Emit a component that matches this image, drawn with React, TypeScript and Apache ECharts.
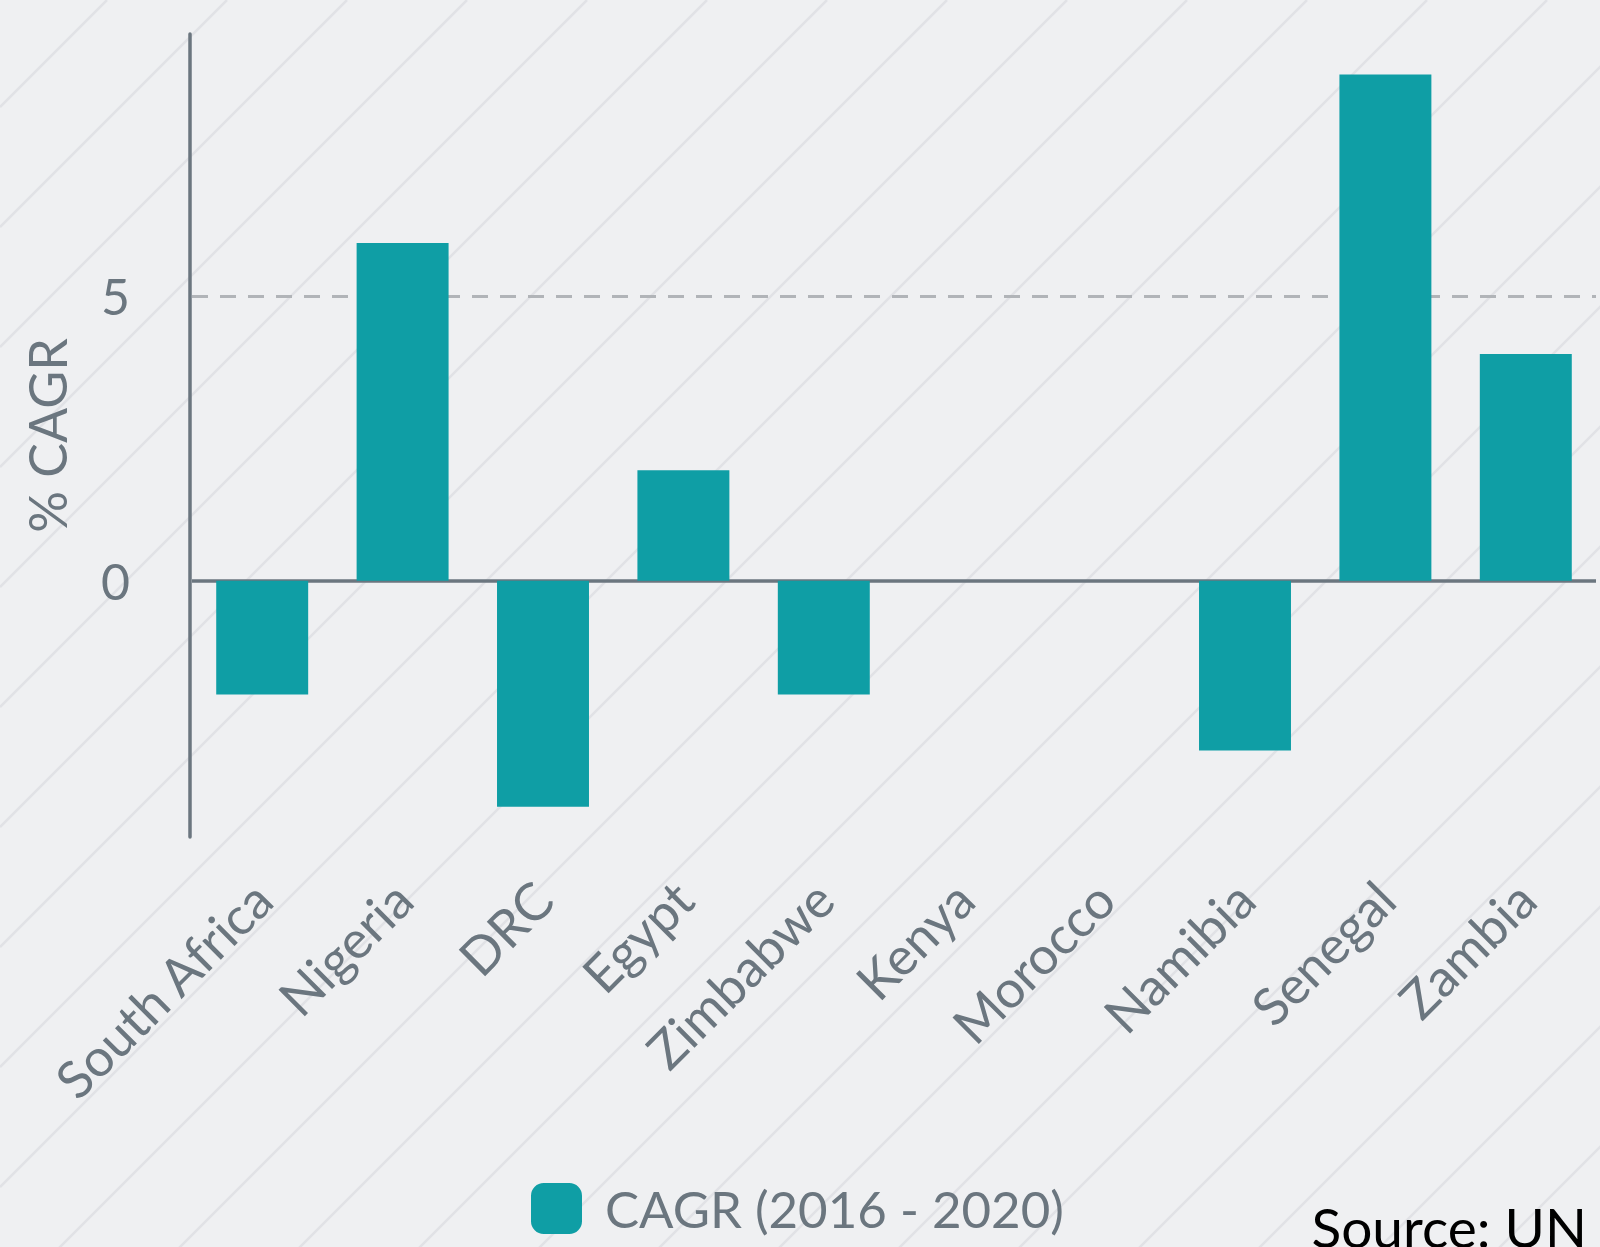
import React, { useEffect, useRef } from "react";
import * as echarts from "echarts";

const categories = [
  "South Africa",
  "Nigeria",
  "DRC",
  "Egypt",
  "Zimbabwe",
  "Kenya",
  "Morocco",
  "Namibia",
  "Senegal",
  "Zambia",
];
const cagrValues = [-2.0, 5.93, -3.97, 1.94, -2.0, 0, 0, -2.98, 8.89, 3.98];
const yTickValues = [0, 5];
const seriesName = "CAGR (2016 - 2020)";
const axisTitle = "% CAGR";
const sourceText = "Source: UN";

const W = 1600;
const H = 1247;
const BG = "#eff0f2";
const STRIPE = "#e1e2e6";
const BAR = "#0f9ea5";
const GREY = "#6b767f";
const FONT = "Lato";

function stripes() {
  const out: any[] = [];
  for (let c = 107 - 120 * 2; c < W + H + 120; c += 120) {
    out.push({
      type: "line",
      silent: true,
      z: -10,
      shape: { x1: 0, y1: c, x2: c, y2: 0 },
      style: { stroke: STRIPE, lineWidth: 2.5 },
    });
  }
  return out;
}

export default function App() {
  const ref = useRef<HTMLDivElement>(null);
  useEffect(() => {
    if (!ref.current) return;
    const chart = echarts.init(ref.current, undefined, { renderer: "svg" });
    chart.setOption({
      animation: false,
      backgroundColor: BG,
      textStyle: { fontFamily: FONT },
      grid: { left: 192, right: 4, top: 34, bottom: H - 837, containLabel: false },
      legend: {
        show: true,
        top: 1178,
        left: 526,
        icon: "roundRect",
        itemWidth: 51,
        itemHeight: 51,
        itemStyle: { borderRadius: 5 },
        textStyle: { fontSize: 51, color: GREY, fontFamily: FONT, padding: [0, 0, 0, 18] },
        data: [seriesName],
      },
      xAxis: {
        type: "category",
        data: categories,
        axisLine: { show: false, onZero: false },
        axisTick: { show: false },
        splitLine: { show: false },
        axisLabel: {
          rotate: 45,
          fontSize: 52,
          color: GREY,
          fontFamily: FONT,
          margin: 53,
          interval: 0,
        },
      },
      yAxis: {
        type: "value",
        min: -4.5,
        max: 9.6,
        offset: 2,
        name: axisTitle,
        nameLocation: "middle",
        nameRotate: 90,
        nameGap: 117,
        nameTextStyle: { fontSize: 52, color: GREY, fontFamily: FONT },
        axisLine: { show: true, lineStyle: { color: GREY, width: 3.5 } },
        axisTick: { show: false },
        splitLine: { show: false },
        axisLabel: {
          customValues: yTickValues,
          fontSize: 50,
          color: GREY,
          fontFamily: FONT,
          margin: 60,
        },
      },
      graphic: [
        ...stripes(),
        {
          type: "text",
          right: 13,
          bottom: -7,
          style: {
            text: sourceText,
            fontSize: 55,
            fontFamily: FONT,
            fill: "#000000",
          },
        },
      ],
      series: [
        {
          name: seriesName,
          type: "bar",
          data: cagrValues,
          barCategoryGap: "34.5%",
          itemStyle: { color: BAR },
          markLine: {
            silent: true,
            symbol: "none",
            z: 1,
            label: { show: false },
            data: [
              { yAxis: 0, lineStyle: { color: GREY, width: 3.5, type: "solid" } },
              {
                yAxis: 5,
                lineStyle: { color: "#b1b4b8", width: 3, type: [16, 12] },
              },
            ],
          },
        },
      ],
    });
    return () => chart.dispose();
  }, []);
  return (
    <div
      ref={ref}
      style={{ position: "fixed", left: 0, top: 0, width: W, height: H }}
    />
  );
}
